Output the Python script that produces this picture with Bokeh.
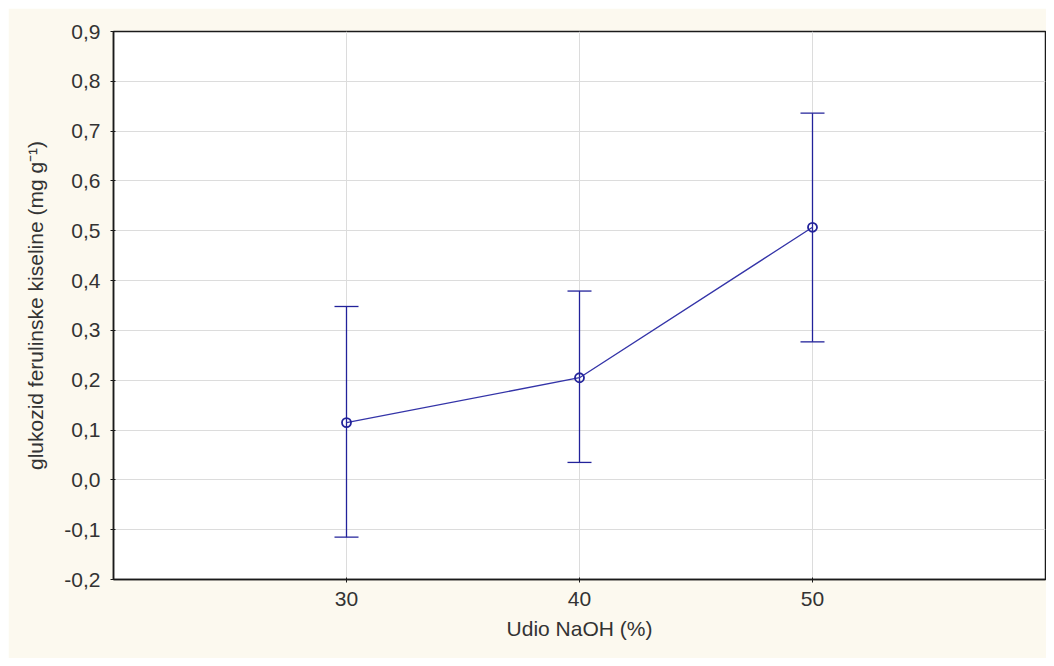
from bokeh.plotting import figure
from bokeh.models import ColumnDataSource, Whisker, TeeHead, FixedTicker, Range1d
from bokeh.embed import file_html
from bokeh.resources import INLINE

# data
naoh = [30, 40, 50]
mean = [0.115, 0.205, 0.507]
lower = [-0.115, 0.035, 0.277]
upper = [0.348, 0.379, 0.736]

y_ticks = [-0.2, -0.1, 0.0, 0.1, 0.2, 0.3, 0.4, 0.5, 0.6, 0.7, 0.8, 0.9]
y_labels = ["-0,2", "-0,1", "0,0", "0,1", "0,2", "0,3", "0,4", "0,5", "0,6", "0,7", "0,8", "0,9"]
x_ticks = [30, 40, 50]

FONT = "Liberation Sans"
BLUE = "#22229a"

p = figure(width=1038, height=650, output_backend="svg", toolbar_location=None,
           x_range=Range1d(20, 60), y_range=Range1d(-0.2, 0.9),
           min_border_left=105, min_border_right=1, min_border_top=23, min_border_bottom=79)
p.margin = (8, 0, 0, 8)

p.background_fill_color = "white"
p.border_fill_color = "#fcf9ef"
p.outline_line_color = "#1a1a1a"
p.outline_line_width = 1.5

src = ColumnDataSource(dict(x=naoh, y=mean, lo=lower, hi=upper))

p.add_layout(Whisker(source=src, base="x", lower="lo", upper="hi",
                     line_color=BLUE, line_width=1.3,
                     upper_head=TeeHead(size=24, line_color=BLUE, line_width=1.3),
                     lower_head=TeeHead(size=24, line_color=BLUE, line_width=1.3)))
p.line("x", "y", source=src, line_color="#3434a8", line_width=1.3)
p.scatter("x", "y", source=src, size=9, marker="circle", fill_color="white",
          fill_alpha=0.0, line_color=BLUE, line_width=1.8)

p.yaxis.ticker = FixedTicker(ticks=y_ticks)
p.yaxis.major_label_overrides = {t: l for t, l in zip(y_ticks, y_labels)}
p.xaxis.ticker = FixedTicker(ticks=x_ticks)
p.xaxis.major_label_overrides = {t: str(t) for t in x_ticks}

for ax in (p.xaxis, p.yaxis):
    ax.axis_line_color = "#1a1a1a"
    ax.axis_line_width = 1.5
    ax.major_tick_line_color = "#1a1a1a"
    ax.major_tick_out = 3
    ax.major_tick_in = 2
    ax.minor_tick_line_color = None
    ax.major_label_text_font = FONT
    ax.major_label_text_font_size = "21px"
    ax.major_label_text_color = "#333333"
    ax.axis_label_text_font = FONT
    ax.axis_label_text_font_size = "21px"
    ax.axis_label_text_font_style = "normal"
    ax.axis_label_text_color = "#333333"

p.xaxis.major_label_standoff = 9
p.xaxis.axis_label = "Udio NaOH (%)"
p.xaxis.axis_label_standoff = 8
p.yaxis.major_label_standoff = 10
p.yaxis.axis_label = "glukozid ferulinske kiseline (mg g\u207b\u00b9)"
p.yaxis.axis_label_standoff = 14

p.xgrid.ticker = FixedTicker(ticks=x_ticks)
p.ygrid.ticker = FixedTicker(ticks=y_ticks)
p.grid.grid_line_color = "#dcdcdc"
p.grid.grid_line_width = 1

open("out.html", "w").write(file_html(p, INLINE))
